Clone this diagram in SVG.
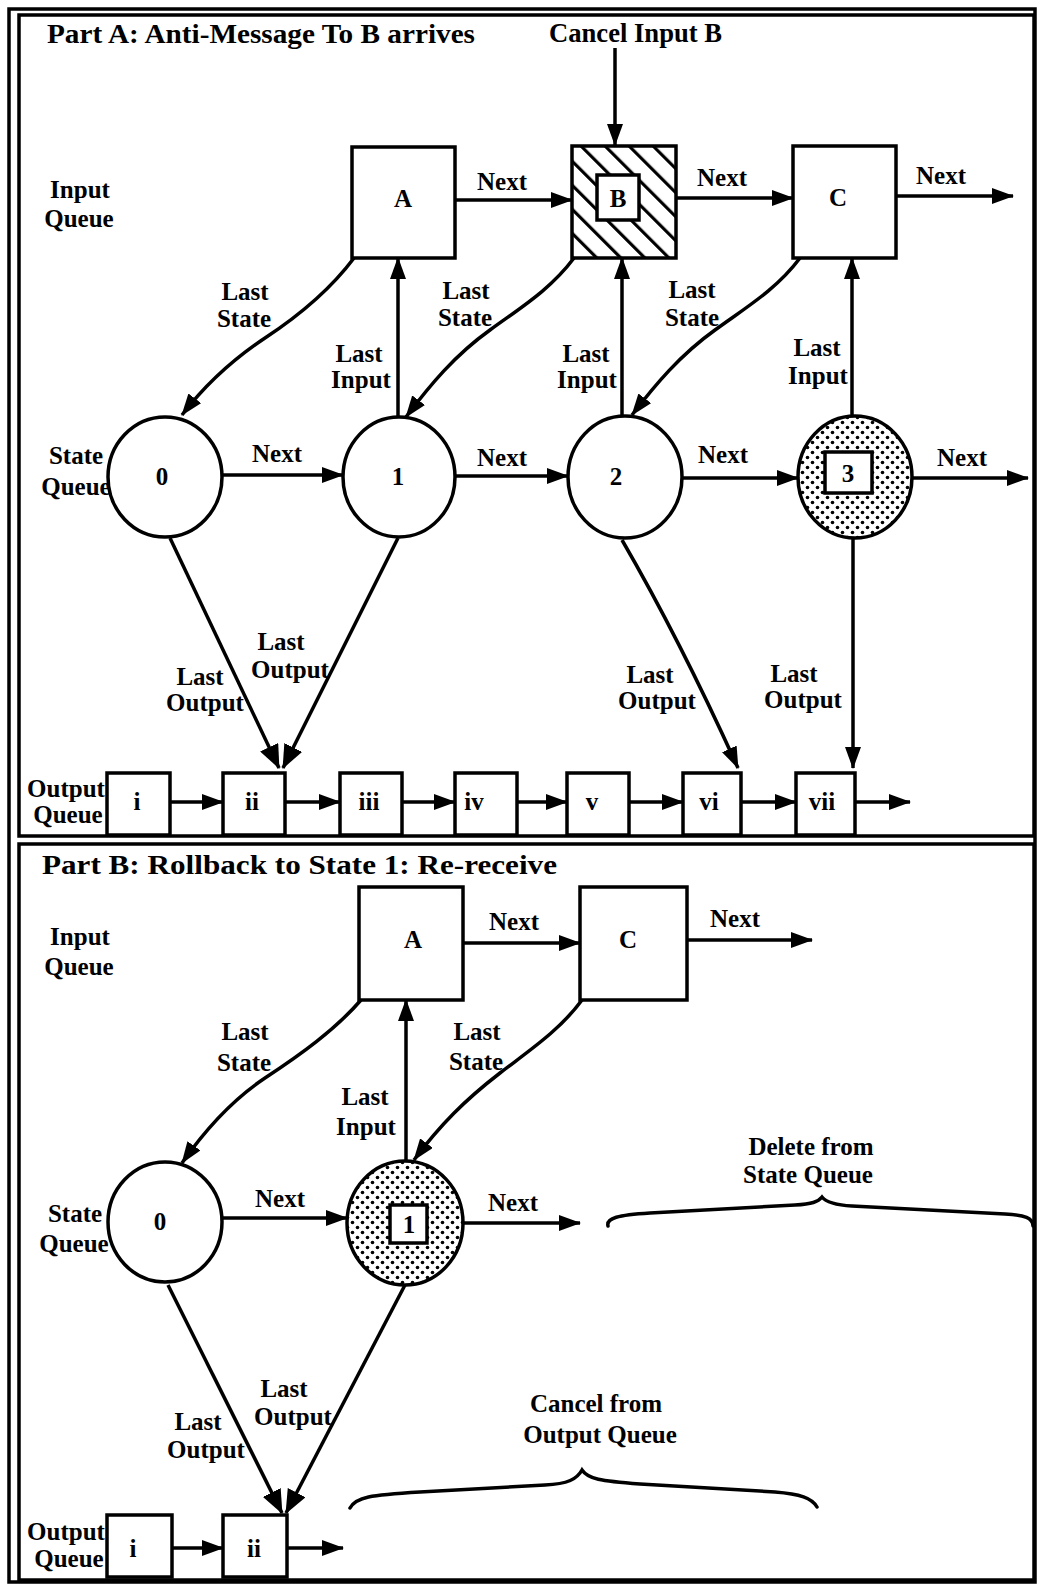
<svg xmlns="http://www.w3.org/2000/svg" width="1038" height="1585" viewBox="0 0 1038 1585">
<style>
text{font-family:"Liberation Serif","DejaVu Serif",serif;font-weight:bold;fill:#000;}
.lbl{font-size:25px;text-anchor:middle;}
.nd{font-size:25px;text-anchor:middle;}
.ttl{font-size:27px;}
.box{fill:#fff;stroke:#000;stroke-width:3.5;}
.frame{fill:none;stroke:#000;stroke-width:3.5;}
.cn{fill:none;stroke:#000;stroke-width:3.5;marker-end:url(#ah);}
.cnb{fill:none;stroke:#000;stroke-width:3.5;marker-end:url(#ahb);}
.brace{fill:none;stroke:#000;stroke-width:3.5;stroke-linecap:round;}
</style>
<defs>
<marker id="ah" viewBox="0 0 22 16" refX="21" refY="8" markerWidth="22" markerHeight="16" orient="auto" markerUnits="userSpaceOnUse"><path d="M0,0 L22,8 L0,16 z" fill="#000"/></marker>
<marker id="ahb" viewBox="0 0 24 20" refX="23" refY="10" markerWidth="24" markerHeight="20" orient="auto" markerUnits="userSpaceOnUse"><path d="M0,0 L24,10 L0,20 z" fill="#000"/></marker>
<pattern id="hatch" patternUnits="userSpaceOnUse" width="17" height="17" patternTransform="rotate(-45)"><rect x="0" y="0" width="17" height="17" fill="#fff"/><rect x="0" y="0" width="3.2" height="17" fill="#000"/></pattern>
<pattern id="dots" patternUnits="userSpaceOnUse" width="10" height="10"><rect width="10" height="10" fill="#fff"/><circle cx="2.5" cy="2.5" r="1.8" fill="#000"/><circle cx="7.5" cy="7.5" r="1.8" fill="#000"/></pattern>
</defs>
<rect width="1038" height="1585" fill="#fff"/>
<g id="frame">
<rect class="frame" x="9" y="9" width="1026" height="1573"/>
<rect class="frame" x="19" y="15" width="1015" height="821"/>
<rect class="frame" x="19" y="844" width="1015" height="736"/>
</g>
<g id="titles">
<text class="ttl" x="47" y="43" textLength="428" lengthAdjust="spacingAndGlyphs">Part A:  Anti-Message To B arrives</text>
<text class="ttl" x="549" y="42" textLength="173" lengthAdjust="spacingAndGlyphs">Cancel Input B</text>
<text class="ttl" x="42" y="874" textLength="515" lengthAdjust="spacingAndGlyphs">Part B:  Rollback to State 1:  Re-receive</text>
<text class="lbl" x="80" y="198">Input</text><text class="lbl" x="79" y="227">Queue</text>
<text class="lbl" x="76" y="464">State</text><text class="lbl" x="76" y="495">Queue</text>
<text class="lbl" x="66" y="797">Output</text><text class="lbl" x="68" y="823">Queue</text>
<text class="lbl" x="80" y="945">Input</text><text class="lbl" x="79" y="975">Queue</text>
<text class="lbl" x="75" y="1222">State</text><text class="lbl" x="74" y="1252">Queue</text>
<text class="lbl" x="66" y="1540">Output</text><text class="lbl" x="69" y="1567">Queue</text>
<text class="lbl" x="811" y="1155">Delete from</text><text class="lbl" x="808" y="1183">State Queue</text>
<text class="lbl" x="596" y="1412">Cancel from</text><text class="lbl" x="600" y="1443">Output Queue</text>
</g>
<g id="connectors">
<path class="cn" d="M615 48 L615 145"/>
<path class="cn" d="M455 200 L572 200"/>
<path class="cn" d="M676 198 L793 198"/>
<path class="cn" d="M896 196 L1013 196"/>
<path class="cn" d="M398 417 L398 258"/>
<path class="cn" d="M622 416 L622 258"/>
<path class="cn" d="M852 416 L852 258"/>
<path class="cn" d="M354 258 C330 290 300 315 265 338 C232 360 205 385 182 415"/>
<path class="cn" d="M574 258 C550 290 520 308 490 330 C455 355 430 385 406 417"/>
<path class="cn" d="M800 258 C776 290 745 308 715 330 C680 355 655 385 632 415"/>
<path class="cn" d="M222 475 L343 475"/>
<path class="cn" d="M455 476 L568 476"/>
<path class="cn" d="M682 478 L798 478"/>
<path class="cn" d="M912 478 L1028 478"/>
<path class="cnb" d="M170 538 L279 768"/>
<path class="cnb" d="M398 538 L283 768"/>
<path class="cn" d="M622 540 Q680 640 738 768"/>
<path class="cn" d="M853 538 L853 768"/>
<path class="cn" d="M170 802 L223 802"/>
<path class="cn" d="M285 802 L340 802"/>
<path class="cn" d="M402 802 L455 802"/>
<path class="cn" d="M517 802 L567 802"/>
<path class="cn" d="M629 802 L683 802"/>
<path class="cn" d="M741 802 L796 802"/>
<path class="cn" d="M855 802 L910 802"/>
<path class="cn" d="M463 943 L580 943"/>
<path class="cn" d="M687 940 L812 940"/>
<path class="cn" d="M406 1161 L406 1000"/>
<path class="cn" d="M361 1000 C335 1030 300 1055 265 1078 C232 1100 205 1130 182 1163"/>
<path class="cn" d="M582 1000 C560 1030 530 1050 500 1073 C465 1100 440 1125 414 1160"/>
<path class="cn" d="M222 1218 L347 1218"/>
<path class="cn" d="M463 1223 L580 1223"/>
<path class="cnb" d="M168 1285 L282 1513"/>
<path class="cnb" d="M405 1285 L286 1513"/>
<path class="cn" d="M172 1548 L223 1548"/>
<path class="cn" d="M287 1548 L343 1548"/>
<path class="brace" d="M608 1226 C606 1218 618 1215 650 1213 L795 1205 C812 1204 818 1202 822 1197 C826 1202 834 1205 852 1206 L1005 1214 C1025 1215 1033 1218 1033 1226"/>
<path class="brace" d="M350 1508 C356 1497 370 1495 420 1492 L545 1485 C568 1484 577 1479 582 1470 C588 1479 600 1481 640 1484 L775 1492 C800 1494 812 1498 817 1507"/>
</g>
<g id="edge-labels">
<text class="lbl" x="502" y="190">Next</text>
<text class="lbl" x="722" y="186">Next</text>
<text class="lbl" x="941" y="184">Next</text>
<text class="lbl" x="245" y="300">Last</text><text class="lbl" x="244" y="327">State</text>
<text class="lbl" x="359" y="362">Last</text><text class="lbl" x="361" y="388">Input</text>
<text class="lbl" x="466" y="299">Last</text><text class="lbl" x="465" y="326">State</text>
<text class="lbl" x="586" y="362">Last</text><text class="lbl" x="587" y="388">Input</text>
<text class="lbl" x="692" y="298">Last</text><text class="lbl" x="692" y="326">State</text>
<text class="lbl" x="817" y="356">Last</text><text class="lbl" x="818" y="384">Input</text>
<text class="lbl" x="277" y="462">Next</text>
<text class="lbl" x="502" y="466">Next</text>
<text class="lbl" x="723" y="463">Next</text>
<text class="lbl" x="962" y="466">Next</text>
<text class="lbl" x="200" y="685">Last</text><text class="lbl" x="205" y="711">Output</text>
<text class="lbl" x="281" y="650">Last</text><text class="lbl" x="290" y="678">Output</text>
<text class="lbl" x="650" y="683">Last</text><text class="lbl" x="657" y="709">Output</text>
<text class="lbl" x="794" y="682">Last</text><text class="lbl" x="803" y="708">Output</text>
<text class="lbl" x="514" y="930">Next</text>
<text class="lbl" x="735" y="927">Next</text>
<text class="lbl" x="245" y="1040">Last</text><text class="lbl" x="244" y="1071">State</text>
<text class="lbl" x="365" y="1105">Last</text><text class="lbl" x="366" y="1135">Input</text>
<text class="lbl" x="477" y="1040">Last</text><text class="lbl" x="476" y="1070">State</text>
<text class="lbl" x="280" y="1207">Next</text>
<text class="lbl" x="513" y="1211">Next</text>
<text class="lbl" x="198" y="1430">Last</text><text class="lbl" x="206" y="1458">Output</text>
<text class="lbl" x="284" y="1397">Last</text><text class="lbl" x="293" y="1425">Output</text>
</g>
<g id="a-input-A"><rect class="box" x="352" y="147" width="103" height="111"/><text class="nd" x="403" y="207">A</text></g>
<g id="a-input-B"><rect x="572" y="146" width="104" height="112" fill="url(#hatch)" stroke="#000" stroke-width="3.5"/><rect class="box" x="597" y="175" width="42" height="45"/><text class="nd" x="618" y="207">B</text></g>
<g id="a-input-C"><rect class="box" x="793" y="146" width="103" height="112"/><text class="nd" x="838" y="206">C</text></g>
<g id="a-state-0"><ellipse class="box" cx="165" cy="477" rx="57" ry="60"/><text class="nd" x="162" y="485">0</text></g>
<g id="a-state-1"><ellipse class="box" cx="399" cy="477" rx="56" ry="60"/><text class="nd" x="398" y="485">1</text></g>
<g id="a-state-2"><ellipse class="box" cx="625" cy="477" rx="57" ry="61"/><text class="nd" x="616" y="485">2</text></g>
<g id="a-state-3"><ellipse cx="855" cy="477" rx="57" ry="61" fill="url(#dots)" stroke="#000" stroke-width="3.5"/><rect class="box" x="825" y="452" width="47" height="41"/><text class="nd" x="848" y="482">3</text></g>
<g id="a-out-i"><rect class="box" x="107" y="773" width="63" height="62"/><text class="nd" x="137" y="810">i</text></g>
<g id="a-out-ii"><rect class="box" x="223" y="773" width="62" height="62"/><text class="nd" x="252" y="810">ii</text></g>
<g id="a-out-iii"><rect class="box" x="340" y="773" width="62" height="62"/><text class="nd" x="369" y="810">iii</text></g>
<g id="a-out-iv"><rect class="box" x="455" y="773" width="62" height="62"/><text class="nd" x="474" y="810">iv</text></g>
<g id="a-out-v"><rect class="box" x="567" y="773" width="62" height="62"/><text class="nd" x="592" y="810">v</text></g>
<g id="a-out-vi"><rect class="box" x="683" y="773" width="58" height="62"/><text class="nd" x="709" y="810">vi</text></g>
<g id="a-out-vii"><rect class="box" x="796" y="773" width="59" height="62"/><text class="nd" x="822" y="810">vii</text></g>
<g id="b-input-A"><rect class="box" x="359" y="887" width="104" height="113"/><text class="nd" x="413" y="948">A</text></g>
<g id="b-input-C"><rect class="box" x="580" y="887" width="107" height="113"/><text class="nd" x="628" y="948">C</text></g>
<g id="b-state-0"><ellipse class="box" cx="165" cy="1222" rx="57" ry="60"/><text class="nd" x="160" y="1230">0</text></g>
<g id="b-state-1"><ellipse cx="405" cy="1223" rx="58" ry="62" fill="url(#dots)" stroke="#000" stroke-width="3.5"/><rect class="box" x="390" y="1205" width="37" height="38"/><text class="nd" x="409" y="1233">1</text></g>
<g id="b-out-i"><rect class="box" x="107" y="1515" width="65" height="62"/><text class="nd" x="133" y="1557">i</text></g>
<g id="b-out-ii"><rect class="box" x="223" y="1515" width="64" height="62"/><text class="nd" x="254" y="1557">ii</text></g>
</svg>
